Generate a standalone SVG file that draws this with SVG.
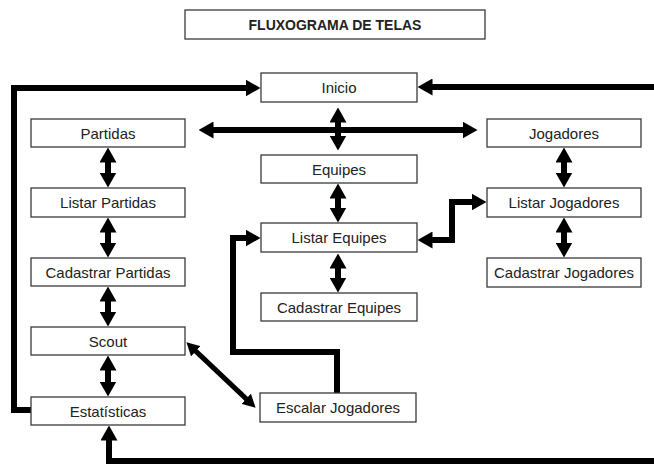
<svg xmlns="http://www.w3.org/2000/svg" width="654" height="464" viewBox="0 0 654 464">
<style>
.box rect{fill:#fff;stroke:#3a3a3a;stroke-width:1.3}
.box text{font-family:"Liberation Sans",Arial,sans-serif;font-size:15px;fill:#222;text-anchor:middle}
.title text{font-weight:bold;font-size:14px}
.c path{fill:none;stroke:#000;stroke-width:6;stroke-linejoin:miter}
.c path.d{stroke-width:5}
</style>
<defs>
<marker id="ah" markerUnits="userSpaceOnUse" viewBox="0 0 15 17" markerWidth="15" markerHeight="17" refX="0.5" refY="8.5" orient="auto-start-reverse"><path d="M0,0 L15,8.5 L0,17 z" fill="#000"/></marker>
<marker id="as" markerUnits="userSpaceOnUse" viewBox="0 0 13 14" markerWidth="13" markerHeight="14" refX="0.5" refY="7" orient="auto-start-reverse"><path d="M0,0 L13,7 L0,14 z" fill="#000"/></marker>
</defs>
<rect width="654" height="464" fill="#fff"/>
<g id="connectors" class="c">
<path d="M31,410 H14 V88 H246" marker-end="url(#ah)"/>
<path d="M660,87 H432" marker-end="url(#ah)"/>
<path d="M660,461 H109 V440" marker-end="url(#ah)"/>
<path d="M213,130 H463" marker-start="url(#ah)" marker-end="url(#ah)"/>
<path d="M338,122 V136" marker-start="url(#ah)" marker-end="url(#ah)"/>
<path d="M108,162 V173" marker-start="url(#ah)" marker-end="url(#ah)"/>
<path d="M108,232 V243" marker-start="url(#ah)" marker-end="url(#ah)"/>
<path d="M108,301 V312" marker-start="url(#ah)" marker-end="url(#ah)"/>
<path d="M108,370 V382" marker-start="url(#ah)" marker-end="url(#ah)"/>
<path d="M564,162 V173" marker-start="url(#ah)" marker-end="url(#ah)"/>
<path d="M564,232 V243" marker-start="url(#ah)" marker-end="url(#ah)"/>
<path d="M338,198 V208" marker-start="url(#ah)" marker-end="url(#ah)"/>
<path d="M338,268 V278" marker-start="url(#ah)" marker-end="url(#ah)"/>
<path d="M432,240 H452 V202 H472" marker-start="url(#ah)" marker-end="url(#ah)"/>
<path d="M337,393 V352 H233 V238 H246" marker-end="url(#ah)"/>
<path class="d" d="M195.5,350.9 L246.5,399.1" marker-start="url(#as)" marker-end="url(#as)"/>
</g>
<g id="title" class="box title"><rect x="185" y="10" width="300" height="29"/><text x="335" y="29.5">FLUXOGRAMA DE TELAS</text></g>
<g id="inicio" class="box"><rect x="261" y="73" width="156" height="29"/><text x="339" y="92.5">Inicio</text></g>
<g id="partidas" class="box"><rect x="31" y="119" width="154" height="28"/><text x="108" y="138.5">Partidas</text></g>
<g id="jogadores" class="box"><rect x="487" y="119" width="154" height="28"/><text x="564" y="138.5">Jogadores</text></g>
<g id="equipes" class="box"><rect x="261" y="155" width="156" height="28"/><text x="339" y="174.5">Equipes</text></g>
<g id="listar-partidas" class="box"><rect x="31" y="188" width="154" height="29"/><text x="108" y="207.5">Listar Partidas</text></g>
<g id="listar-jogadores" class="box"><rect x="487" y="188" width="154" height="29"/><text x="564" y="207.5">Listar Jogadores</text></g>
<g id="listar-equipes" class="box"><rect x="261" y="223" width="156" height="29"/><text x="339" y="242.5">Listar Equipes</text></g>
<g id="cadastrar-partidas" class="box"><rect x="31" y="258" width="154" height="28"/><text x="108" y="277.5">Cadastrar Partidas</text></g>
<g id="cadastrar-jogadores" class="box"><rect x="487" y="258" width="154" height="29"/><text x="564" y="277.5">Cadastrar Jogadores</text></g>
<g id="cadastrar-equipes" class="box"><rect x="261" y="293" width="156" height="28"/><text x="339" y="312.5">Cadastrar Equipes</text></g>
<g id="scout" class="box"><rect x="31" y="327" width="154" height="28"/><text x="108" y="346.5">Scout</text></g>
<g id="escalar-jogadores" class="box"><rect x="260" y="393" width="156" height="29"/><text x="338" y="412.5">Escalar Jogadores</text></g>
<g id="estatisticas" class="box"><rect x="31" y="397" width="154" height="28"/><text x="108" y="416.5">Estatísticas</text></g>
</svg>
